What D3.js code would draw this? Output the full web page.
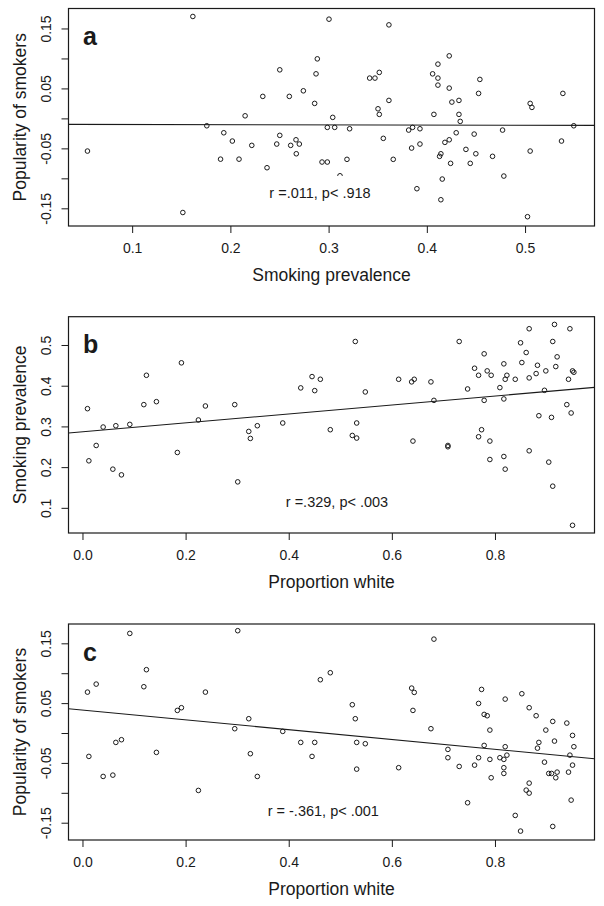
<!DOCTYPE html>
<html><head><meta charset="utf-8">
<script src="https://cdn.jsdelivr.net/npm/d3@7"></script>
<style>body{margin:0;background:#fff} svg{display:block}</style>
</head><body>
<svg id="chart" width="604" height="906"></svg>
<script>
// ---- Data ----
const smokingA = [0.1618,0.0545,0.1516,0.176,0.1933,0.215,0.202,0.2218,0.190,0.2088,0.2373,0.233,0.2503,0.260,0.2743,0.2858,0.2872,0.2885,0.2503,0.2472,0.2614,0.2668,0.2702,0.2671,0.3004,0.3614,0.3042,0.2987,0.3062,0.3214,0.2933,0.2987,0.3187,0.3116,0.3418,0.3472,0.3516,0.3614,0.3503,0.3516,0.3557,0.3658,0.3815,0.3855,0.393,0.3845,0.393,0.3899,0.4059,0.4113,0.4113,0.4113,0.4228,0.4228,0.4255,0.4327,0.4072,0.4327,0.434,0.454,0.4527,0.4299,0.4228,0.4184,0.4398,0.4482,0.4499,0.4143,0.413,0.4242,0.4442,0.4669,0.4157,0.4143,0.4771,0.4784,0.5052,0.507,0.5052,0.5025,0.5385,0.5371,0.5496];
const popularityA = [0.170,-0.0545,-0.157,-0.0123,-0.024,0.0043,-0.0378,-0.045,-0.068,-0.068,-0.0823,0.0367,0.081,0.0367,0.046,0.025,0.0743,0.0993,-0.0283,-0.0428,-0.045,-0.0357,-0.0428,-0.059,0.1655,0.156,0.0017,-0.015,-0.015,-0.0173,-0.0728,-0.0728,-0.0683,-0.0957,0.0672,0.0672,0.0767,0.030,0.016,0.0067,-0.0333,-0.0683,-0.0195,-0.015,-0.0173,-0.0495,-0.0428,-0.1173,0.0743,0.0905,0.0672,0.0555,0.1043,0.0505,0.0272,0.030,0.0067,0.0067,-0.005,0.065,0.0417,-0.024,-0.0357,-0.040,-0.0517,-0.0262,-0.059,-0.059,-0.0633,-0.075,-0.075,-0.0633,-0.1012,-0.1357,-0.0195,-0.0962,0.025,0.0183,-0.0545,-0.164,0.0417,-0.0378,-0.0123];

const whiteB = [0.0097,0.0124,0.0266,0.0401,0.0589,0.0647,0.0756,0.0918,0.119,0.124,0.1434,0.184,0.1919,0.2248,0.2384,0.2953,0.3011,0.3225,0.3256,0.3391,0.3884,0.4233,0.4452,0.4504,0.4613,0.4806,0.5233,0.5318,0.5318,0.5291,0.5485,0.6132,0.6384,0.6434,0.6409,0.6758,0.6816,0.7087,0.7087,0.7306,0.7469,0.7604,0.7682,0.779,0.7849,0.7926,0.779,0.774,0.7682,0.7901,0.7901,0.8095,0.8172,0.8198,0.8231,0.8172,0.8172,0.8198,0.8393,0.8496,0.8605,0.8521,0.8663,0.8663,0.8824,0.8798,0.8663,0.8851,0.8986,0.896,0.9154,0.912,0.9205,0.9179,0.9096,0.9043,0.912,0.9453,0.9426,0.9393,0.9477,0.9504,0.953,0.9504];
const smokingB = [0.3436,0.2155,0.2532,0.2985,0.195,0.3017,0.181,0.305,0.3535,0.4256,0.3608,0.236,0.4562,0.3158,0.3502,0.3535,0.1638,0.2877,0.2705,0.3017,0.3084,0.3946,0.4224,0.3879,0.4158,0.2919,0.2778,0.2714,0.3084,0.5086,0.3847,0.4158,0.4094,0.4158,0.264,0.4094,0.364,0.2532,0.250,0.5086,0.392,0.4429,0.4256,0.4783,0.4364,0.4256,0.364,0.2919,0.2746,0.264,0.2187,0.3953,0.4537,0.4158,0.4256,0.3675,0.2261,0.195,0.4158,0.5054,0.4815,0.4569,0.5399,0.4192,0.4502,0.4298,0.2401,0.3263,0.4364,0.3887,0.5505,0.5086,0.4709,0.447,0.3222,0.2123,0.1532,0.5399,0.4158,0.3535,0.333,0.4364,0.433,0.0571];

const whiteC = [0.0918,0.3011,0.124,0.119,0.0266,0.0097,0.2384,0.184,0.1919,0.3225,0.2953,0.3884,0.0647,0.0756,0.0124,0.1434,0.3256,0.0401,0.0589,0.3391,0.2248,0.4233,0.4504,0.4452,0.4613,0.4806,0.6816,0.6384,0.6434,0.6409,0.6758,0.5233,0.5291,0.5318,0.5485,0.5318,0.6132,0.7087,0.7087,0.7306,0.7469,0.7604,0.774,0.7682,0.779,0.7849,0.7901,0.779,0.7682,0.7901,0.7926,0.8198,0.8095,0.8172,0.8231,0.8198,0.8172,0.8172,0.8393,0.8496,0.8521,0.8663,0.8798,0.8986,0.8851,0.8824,0.896,0.8663,0.8605,0.8663,0.912,0.9154,0.9043,0.9096,0.9205,0.9179,0.912,0.9393,0.9504,0.953,0.9453,0.9504,0.9426,0.9477];
const popularityC = [0.1666,0.1711,0.1059,0.0774,0.0818,0.0684,0.0684,0.0378,0.0423,0.0239,0.0072,0.0027,-0.0157,-0.0112,-0.0391,-0.0324,-0.0346,-0.0726,-0.0704,-0.0726,-0.096,-0.0157,-0.0157,-0.0391,0.0891,0.1008,0.157,0.0751,0.0679,0.0378,0.0072,0.0473,0.0239,-0.0157,-0.0179,-0.0604,-0.058,-0.0274,-0.0413,-0.0559,-0.1166,-0.0537,0.0729,0.0495,0.0311,0.0289,0.0049,-0.0207,-0.0413,-0.0441,-0.0748,0.0567,-0.0413,-0.0441,-0.037,-0.0229,-0.058,-0.0676,-0.1378,-0.164,0.0657,0.0423,0.0289,0.0049,-0.0157,-0.0253,-0.0487,-0.0838,-0.0955,-0.1005,0.0194,-0.0135,-0.0676,-0.0676,-0.0654,-0.0748,-0.1562,0.0166,-0.004,-0.0229,-0.037,-0.0537,-0.0654,-0.1122];

const fitIntercept = [-0.0099, 0.2867, 0.0384];
const fitSlope = [-0.003, 0.110, -0.082];

const panelLetters = ["a", "b", "c"];
const statLabels = ["r =.011, p< .918", "r =.329, p< .003", "r = -.361, p< .001"];
const xTitles = ["Smoking prevalence", "Proportion white", "Proportion white"];
const yTitles = ["Popularity of smokers", "Smoking prevalence", "Popularity of smokers"];

const xTicksA = [0.1, 0.2, 0.3, 0.4, 0.5];
const xTicksBC = [0.0, 0.2, 0.4, 0.6, 0.8];
const yTicksPop = [-0.15, -0.10, -0.05, 0, 0.05, 0.10, 0.15];
const yLabelsPop = [-0.15, -0.05, 0.05, 0.15];
const yTicksSmk = [0.1, 0.2, 0.3, 0.4, 0.5];
const yLabelsSmk = [0.1, 0.2, 0.3, 0.4, 0.5];

// ---- Layout ----
const FONT = "'Liberation Sans', Arial, Helvetica, sans-serif";
const INK = "#1a1a1a";
const left = 68.5, right = 594.5;
const panels = [
  {xs: smokingA, ys: popularityA, top: 8.5, bottom: 226, xDom: [0.0352, 0.5707], yDom: [-0.1795, 0.1833],
   xTicks: xTicksA, xDec: 1, yTicks: yTicksPop, yLabels: yLabelsPop, yDec: 2, statX: 320, statY: 197.7},
  {xs: whiteB, ys: smokingB, top: 316.7, bottom: 533, xDom: [-0.0271, 0.993], yDom: [0.0382, 0.5695],
   xTicks: xTicksBC, xDec: 1, yTicks: yTicksSmk, yLabels: yLabelsSmk, yDec: 1, statX: 337, statY: 507},
  {xs: whiteC, ys: popularityC, top: 624, bottom: 840, xDom: [-0.0271, 0.993], yDom: [-0.1789, 0.1823],
   xTicks: xTicksBC, xDec: 1, yTicks: yTicksPop, yLabels: yLabelsPop, yDec: 2, statX: 323.3, statY: 815.7}
];

const svg = d3.select("#chart");
svg.append("rect").attr("width", 604).attr("height", 906).attr("fill", "#fff");

panels.forEach((p, i) => {
  const x = d3.scaleLinear().domain(p.xDom).range([left, right]);
  const y = d3.scaleLinear().domain(p.yDom).range([p.bottom, p.top]);
  const g = svg.append("g");

  const clipId = "clip" + i;
  svg.append("clipPath").attr("id", clipId).append("rect")
    .attr("x", left).attr("y", p.top).attr("width", right - left).attr("height", p.bottom - p.top);

  // x axis
  const xa = g.append("g").attr("transform", `translate(0,${p.bottom})`)
    .call(d3.axisBottom(x).tickValues(p.xTicks).tickSize(7).tickSizeOuter(0)
      .tickFormat(d => d.toFixed(p.xDec)));
  xa.select(".domain").remove();
  xa.selectAll(".tick line").attr("stroke", INK);
  xa.selectAll("text").attr("y", 27.3).attr("dy", 0).attr("fill", INK)
    .style("font-family", FONT).style("font-size", "14px");

  // y axis
  const ya = g.append("g").attr("transform", `translate(${left},0)`)
    .call(d3.axisLeft(y).tickValues(p.yTicks).tickSize(7).tickSizeOuter(0)
      .tickFormat(d => p.yLabels.some(v => Math.abs(v - d) < 1e-9) ? d.toFixed(p.yDec) : ""));
  ya.select(".domain").remove();
  ya.selectAll(".tick line").attr("stroke", INK);
  ya.selectAll("text").attr("x", 0).attr("y", 0).attr("dy", 0)
    .attr("text-anchor", "middle").attr("transform", "translate(-17.5,0) rotate(-90)")
    .attr("fill", INK).style("font-family", FONT).style("font-size", "14px");

  // regression line
  g.append("line").attr("clip-path", `url(#${clipId})`)
    .attr("x1", x(p.xDom[0])).attr("y1", y(fitIntercept[i] + fitSlope[i] * p.xDom[0]))
    .attr("x2", x(p.xDom[1])).attr("y2", y(fitIntercept[i] + fitSlope[i] * p.xDom[1]))
    .attr("stroke", INK).attr("stroke-width", 1.1);

  // points
  g.append("g").selectAll("circle").data(p.xs.map((v, k) => [v, p.ys[k]])).join("circle")
    .attr("cx", d => x(d[0])).attr("cy", d => y(d[1])).attr("r", 2.3)
    .attr("fill", "none").attr("stroke", INK).attr("stroke-width", 1);

  // stat label with white background
  const bg = g.append("rect").attr("fill", "#fff");
  const st = g.append("text").attr("x", p.statX).attr("y", p.statY)
    .attr("text-anchor", "middle").attr("fill", INK)
    .style("font-family", FONT).style("font-size", "14.5px").text(statLabels[i]);
  const bb = st.node().getBBox();
  bg.attr("x", bb.x - 5).attr("y", p.statY - 21.7).attr("width", bb.width + 10).attr("height", 29);

  // box
  g.append("rect").attr("x", left).attr("y", p.top).attr("width", right - left).attr("height", p.bottom - p.top)
    .attr("fill", "none").attr("stroke", INK).attr("stroke-width", 1.2);

  // panel letter
  g.append("text").attr("x", 83).attr("y", p.top + 36.7).attr("fill", INK)
    .style("font-family", FONT).style("font-size", "25px").style("font-weight", "bold").text(panelLetters[i]);

  // axis titles
  g.append("text").attr("x", (left + right) / 2).attr("y", p.bottom + 55).attr("text-anchor", "middle")
    .attr("fill", INK).style("font-family", FONT).style("font-size", "17.5px").text(xTitles[i]);
  g.append("text").attr("transform", `translate(26,${(p.top + p.bottom) / 2}) rotate(-90)`)
    .attr("text-anchor", "middle").attr("fill", INK)
    .style("font-family", FONT).style("font-size", "17.5px").text(yTitles[i]);
});
</script>
</body></html>
